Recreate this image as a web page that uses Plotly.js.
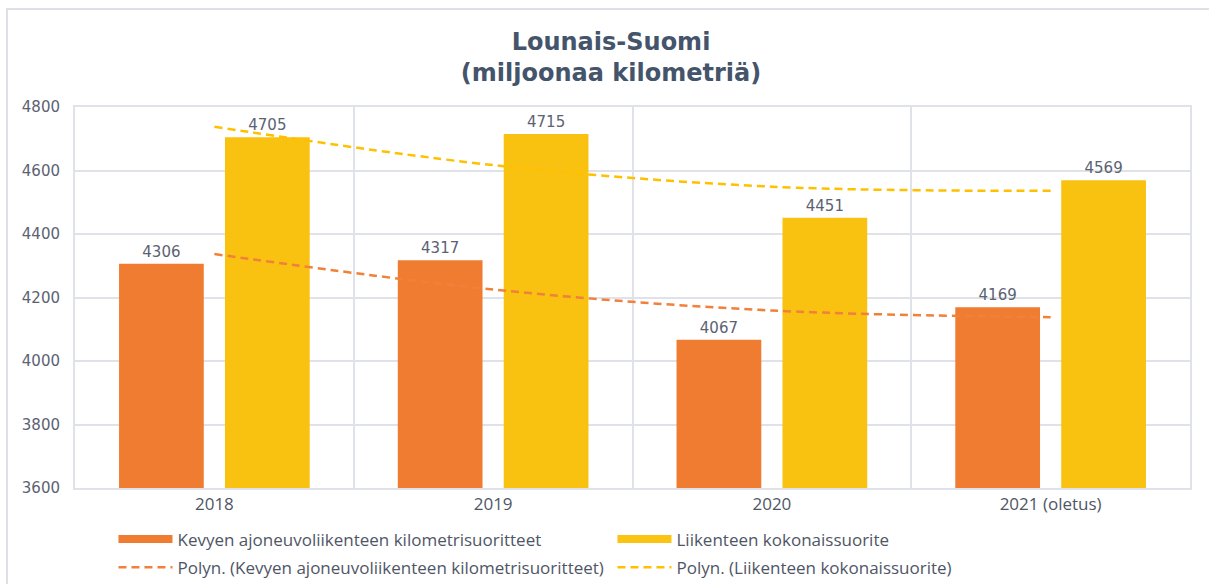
<!DOCTYPE html>
<html>
<head>
<meta charset="utf-8">
<script src="https://cdn.plot.ly/plotly-3.0.1.min.js"></script>
<style>
html,body{margin:0;padding:0;background:#fff;}
#chart{width:1209px;height:584px;}
</style>
</head>
<body>
<div id="chart"></div>
<script>
const categories = ["2018", "2019", "2020", "2021 (oletus)"];
const kevyet = [4306, 4317, 4067, 4169];
const kokonais = [4705, 4715, 4451, 4569];
// trendline (Polyn.) values at each category
const trendKevyet = [4337, 4225, 4159, 4138];
const trendKokonais = [4738, 4617, 4549, 4536];

const nameKevyet = "Kevyen ajoneuvoliikenteen kilometrisuoritteet";
const nameKokonais = "Liikenteen kokonaissuorite";

const orange = "#ef7c31";
const yellow = "#f9c210";
const labelFont = {family: "DejaVu Sans", size: 15, color: "#5b6272"};

const traces = [
  {type: "bar", x: categories, y: kevyet, name: nameKevyet, showlegend: false,
   marker: {color: orange}, text: kevyet.map(String), textposition: "outside",
   textfont: labelFont, cliponaxis: false, hoverinfo: "x+y"},
  {type: "bar", x: categories, y: kokonais, name: nameKokonais, showlegend: false,
   marker: {color: yellow}, text: kokonais.map(String), textposition: "outside",
   textfont: labelFont, cliponaxis: false, hoverinfo: "x+y"},
  // legend swatches for the bar series
  {type: "scatter", mode: "lines", x: [null], y: [null], name: nameKevyet,
   line: {color: orange, width: 8}, hoverinfo: "skip", legend: "legend"},
  {type: "scatter", mode: "lines", x: [null], y: [null], name: nameKokonais,
   line: {color: "#fcc412", width: 8}, hoverinfo: "skip", legend: "legend"},
  {type: "scatter", mode: "lines", x: categories, y: trendKevyet,
   name: "Polyn. (" + nameKevyet + ")", legend: "legend2",
   line: {color: "#f0803a", width: 2.5, dash: "8px,5px", shape: "spline"}},
  {type: "scatter", mode: "lines", x: categories, y: trendKokonais,
   name: "Polyn. (" + nameKokonais + ")", legend: "legend2",
   line: {color: "#ffc000", width: 2.5, dash: "8px,5px", shape: "spline"}}
];

const gridColor = "#dfe3e9";
const legendCommon = {
  orientation: "h", x: 0.0345, xanchor: "left", yanchor: "top",
  entrywidth: 430, entrywidthmode: "pixels", itemwidth: 54,
  font: {family: "Open Sans", size: 17, color: "#4f5666"},
  traceorder: "normal", tracegroupgap: 0, bgcolor: "rgba(0,0,0,0)"
};
const layout = {
  width: 1209, height: 584,
  margin: {l: 75, r: 19, t: 107, b: 96, autoexpand: false},
  paper_bgcolor: "#ffffff", plot_bgcolor: "#ffffff",
  title: {
    text: "<b>Lounais-Suomi<br>(miljoonaa kilometriä)</b>",
    font: {family: "DejaVu Sans", size: 24, color: "#44546a"},
    x: 611 / 1209, xref: "container", xanchor: "center",
    y: 1 - 50 / 584, yref: "container", yanchor: "top", automargin: false
  },
  barmode: "group", bargap: 0.24, bargroupgap: 0.2,
  xaxis: {
    type: "category", tickson: "boundaries", showgrid: true,
    gridcolor: gridColor, gridwidth: 2,
    showline: true, linecolor: gridColor, linewidth: 2, mirror: true,
    ticks: "outside", ticklen: 6, tickcolor: "rgba(0,0,0,0)",
    tickfont: {family: "Open Sans", size: 17, color: "#4f5666"},
    fixedrange: true
  },
  yaxis: {
    range: [3600, 4800], dtick: 200, tick0: 3600,
    showgrid: true, gridcolor: gridColor, gridwidth: 2,
    showline: true, linecolor: gridColor, linewidth: 2, mirror: true,
    zeroline: false,
    ticks: "outside", ticklen: 10, tickcolor: "rgba(0,0,0,0)",
    tickfont: {family: "DejaVu Sans", size: 15, color: "#5b6272"},
    fixedrange: true
  },
  legend: Object.assign({}, legendCommon, {y: -0.088}),
  legend2: Object.assign({}, legendCommon, {y: -0.162}),
  shapes: [
    {type: "path", xref: "paper", yref: "paper",
     path: "M " + ((7 - 75) / 1115) + "," + ((488 - 600) / 381) +
           " L " + ((7 - 75) / 1115) + "," + ((488 - 9) / 381) +
           " L " + ((1230 - 75) / 1115) + "," + ((488 - 9) / 381),
     line: {color: "#dde1e7", width: 2}, layer: "below"}
  ],
  showlegend: true
};

Plotly.newPlot("chart", traces, layout, {displayModeBar: false, staticPlot: true});
</script>
</body>
</html>
